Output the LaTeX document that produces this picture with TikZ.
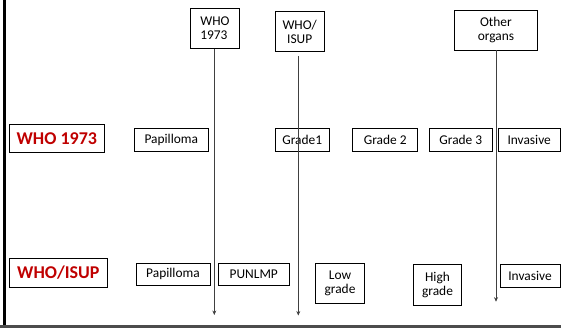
\documentclass[tikz,border=0pt]{standalone}
\usepackage{fontspec}
\setmainfont{Carlito}
\usetikzlibrary{arrows.meta}
\begin{document}
\begin{tikzpicture}[x=1pt, y=-1pt,
    box/.style = {draw, line width=0.8pt, inner sep=0pt, font=\fontsize{13.4}{14.3}\selectfont},
    title/.style = {draw, line width=0.8pt, inner sep=0pt, text=red!75!black, font=\fontsize{18}{19}\selectfont\bfseries},
    arr/.style = {draw=black!75, line width=0.8pt, -{Stealth[length=4.5pt, width=4pt]}}]
    \useasboundingbox (0,0) rectangle (561,328);
    % frame
    \draw[line width=3pt] (4.5,0) -- (4.5,328);
    \draw[black!70, line width=2.2pt] (0,326.5) -- (561,326.5);
    % column heads
    \node[box, minimum width=48.3, minimum height=40.3, align=left] (who73) at (214.9,28.2) {WHO\\1973};
    \node[box, minimum width=49.3, minimum height=40, align=center] (isup) at (299.7,31.7) {WHO/\\ISUP};
    \node[box, minimum width=83.7, minimum height=40, align=center] (other) at (495.9,30) {Other\\organs};
    % WHO 1973 row
    \node[title, minimum width=95, minimum height=28.3] (lab73) at (56.8,138.2) {WHO 1973};
    \node[box, minimum width=74, minimum height=23] (pap73) at (171.3,140) {Papilloma};
    \node[box, minimum width=54.3, minimum height=23] (gr1) at (302.2,140) {Grade1};
    \node[box, minimum width=65, minimum height=23] (gr2) at (385.2,140) {Grade 2};
    \node[box, minimum width=63, minimum height=23] (gr3) at (460.8,140) {Grade 3};
    \node[box, minimum width=61.7, minimum height=23] (inv73) at (529.2,140) {Invasive};
    % WHO/ISUP row
    \node[title, minimum width=98, minimum height=29] (labisup) at (58.3,272.8) {WHO/ISUP};
    \node[box, minimum width=74, minimum height=21.7] (papisup) at (173,274.2) {Papilloma};
    \node[box, minimum width=71, minimum height=21.7] (punlmp) at (253.8,274.2) {PUNLMP};
    \node[box, minimum width=48.6, minimum height=40, align=center] (low) at (340,283.3) {Low\\grade};
    \node[box, minimum width=48.4, minimum height=40.7, align=center] (high) at (437.5,284.7) {High\\grade};
    \node[box, minimum width=60, minimum height=23.3] (invisup) at (530,275.7) {Invasive};
    % cut-off arrows
    \coordinate (who73end) at (214.3,315);
    \coordinate (isupstart) at (298.3,56);
    \coordinate (isupend) at (298.3,315.5);
    \coordinate (otherend) at (496,301.7);
    \draw[arr] (who73.south -| who73end) -- (who73end);
    \draw[arr] (isupstart) -- (isupend);
    \draw[arr] (other.south -| otherend) -- (otherend);
\end{tikzpicture}
\end{document}
